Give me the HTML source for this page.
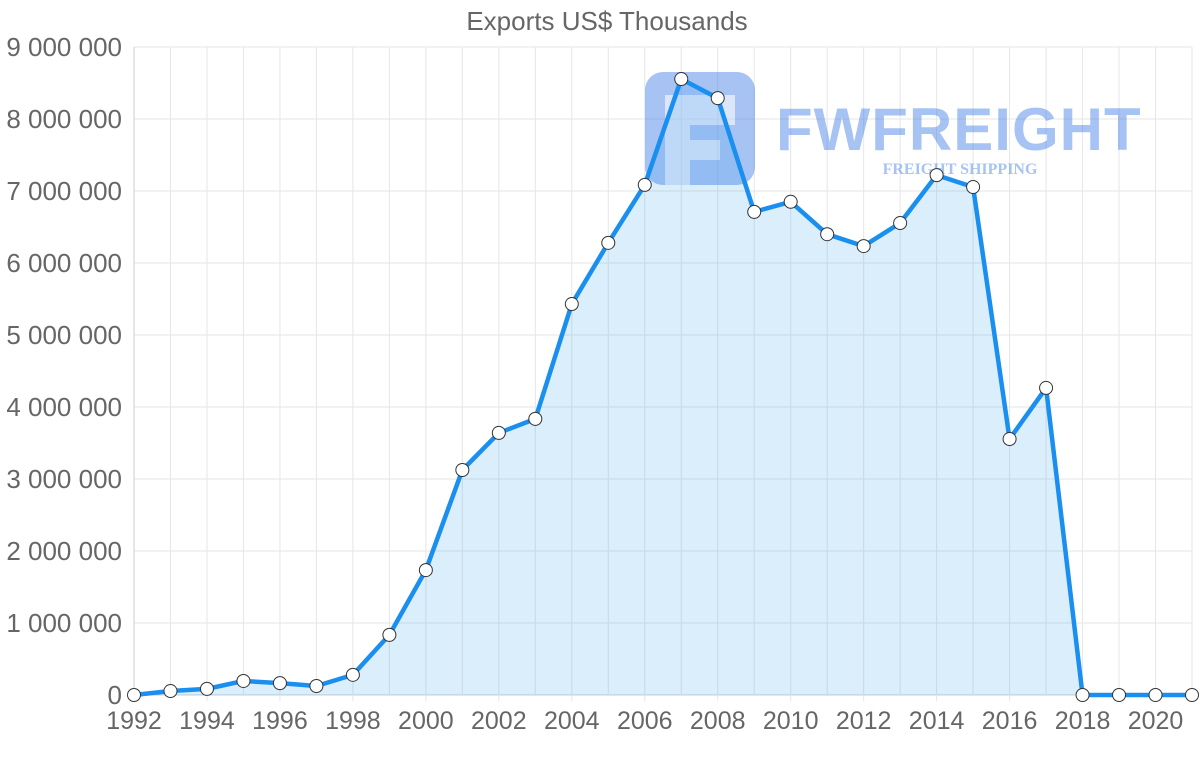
<!DOCTYPE html>
<html><head><meta charset="utf-8"><style>
html,body{margin:0;padding:0;background:#fff;}
svg{display:block;font-family:"Liberation Sans",sans-serif;}
</style></head><body>
<svg id="chart" width="1200" height="763" viewBox="0 0 1200 763">
<text x="607" y="30" text-anchor="middle" font-size="26" fill="#666">Exports US$ Thousands</text>
<g id="grid"></g>
<g opacity="0.45">
<rect x="645" y="72" width="110" height="113" rx="18" fill="#3b7be8"/>
<path d="M665 95 H735 V125 H690 V140 H720 V160 H690 V185 H665 Z" fill="#fff" opacity="0.6"/>
<text x="776" y="150" font-size="60" font-weight="bold" fill="#3b7be8" letter-spacing="1">FWFREIGHT</text>
<text x="960" y="174" text-anchor="middle" font-family="Liberation Serif,serif" font-size="16" font-weight="bold" fill="#3b7be8">FREIGHT SHIPPING</text>
</g>
<g id="marks"></g>
</svg>
<script>
const years=[1992,1993,1994,1995,1996,1997,1998,1999,2000,2001,2002,2003,2004,2005,2006,2007,2008,2009,2010,2011,2012,2013,2014,2015,2016,2017,2018,2019,2020,2021];
const exportsVals=[0,55000,85000,195000,165000,125000,280000,835000,1735000,3125000,3640000,3835000,5430000,6280000,7085000,8555000,8290000,6710000,6850000,6400000,6235000,6555000,7220000,7055000,3555000,4265000,0,0,0,0];
const yTicks=[0,1000000,2000000,3000000,4000000,5000000,6000000,7000000,8000000,9000000];
const yTickLabels=["0","1 000 000","2 000 000","3 000 000","4 000 000","5 000 000","6 000 000","7 000 000","8 000 000","9 000 000"];
const xTickYears=[1992,1994,1996,1998,2000,2002,2004,2006,2008,2010,2012,2014,2016,2018,2020];

const NS="http://www.w3.org/2000/svg";
const X0=134,X1=1192,Y0=695,Y1=47;
const xS=y=>X0+(y-years[0])/(years[years.length-1]-years[0])*(X1-X0);
const yS=v=>Y0-v/9000000*(Y0-Y1);
function mk(t,a,p){const e=document.createElementNS(NS,t);for(const k in a)e.setAttribute(k,a[k]);p.appendChild(e);return e;}
const grid=document.getElementById('grid'),marks=document.getElementById('marks');
yTicks.forEach((v,i)=>{
  const l=mk('line',{x1:X0,x2:X1,y1:yS(v),y2:yS(v),stroke:i===0?'#ccc':'#e6e6e6','stroke-width':1},grid);
  
  
  const t=mk('text',{x:122,y:yS(v)+9,'text-anchor':'end','font-size':26,fill:'#666'},grid);
  t.textContent=yTickLabels[i];
  
  
});
years.forEach(y=>{
  const l=mk('line',{x1:xS(y),x2:xS(y),y1:Y1,y2:Y0+(xTickYears.includes(y)?6:0),stroke:y===years[0]?'#ccc':'#e6e6e6','stroke-width':1},grid);
  
  
});
xTickYears.forEach(y=>{
  const t=mk('text',{x:xS(y),y:729,'text-anchor':'middle','font-size':25,fill:'#666'},grid);
  t.textContent=y;
  
  
});
let d='';
years.forEach((y,i)=>{d+=(i?'L':'M')+xS(y)+' '+yS(exportsVals[i]);});
const area=mk('path',{d:d+'L'+xS(years[years.length-1])+' '+Y0+'L'+X0+' '+Y0+'Z',fill:'rgba(54,162,235,0.18)'},marks);


const line=mk('path',{d:d,fill:'none',stroke:'#1a8ff0','stroke-width':4.5,'stroke-linejoin':'round'},marks);


years.forEach((y,i)=>{
  const c=mk('circle',{cx:xS(y),cy:yS(exportsVals[i]),r:6.5,fill:'#fff',stroke:'#333','stroke-width':1},marks);
  
  
});
</script>
</body></html>
